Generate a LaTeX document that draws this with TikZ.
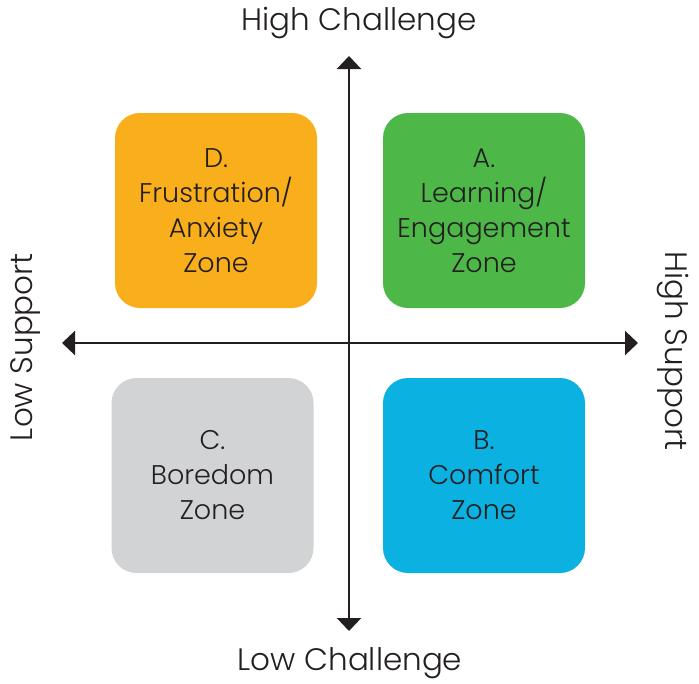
\documentclass[tikz,border=0pt]{standalone}
\usepackage{fontspec}
\setmainfont{Poppins}[UprightFont=* Light]
\usetikzlibrary{arrows.meta}
\definecolor{ink}{HTML}{231F20}
\definecolor{zoneorange}{HTML}{F9AE1B}
\definecolor{zonegreen}{HTML}{4DB848}
\definecolor{zonegray}{HTML}{D1D3D4}
\definecolor{zoneblue}{HTML}{0BB1E1}
\tikzset{
  zone/.style={rounded corners=25pt, minimum width=202pt, minimum height=195pt, inner sep=0pt, align=center, text=ink, font=\fontsize{27}{35}\selectfont},
  axis/.style={line width=2.5pt, draw=ink, {Triangle[width=24pt,length=13pt]}-{Triangle[width=24pt,length=13pt]}},
  axislabel/.style={text=ink, inner sep=0pt, font=\fontsize{31}{36}\selectfont}
}

\begin{document}
\begin{tikzpicture}[x=1pt,y=-1pt]
				%%%%% START %%%%%
				\def\xmid{349}
				\def\ymid{343}
				\useasboundingbox (0,0) rectangle (699,683);

				\node[zone, fill=zoneorange] (zoneD) at (216,210.5) {D.\\Frustration/\\Anxiety\\Zone};
				\node[zone, fill=zonegreen] (zoneA) at (484,210.5) {A.\\Learning/\\Engagement\\Zone};
				\node[zone, fill=zonegray] (zoneC) at (212.5,475.5) {C.\\Boredom\\Zone};
				\node[zone, fill=zoneblue] (zoneB) at (484,475.5) {B.\\Comfort\\Zone};

				\coordinate (top) at (\xmid,56);
				\coordinate (bottom) at (\xmid,631);
				\coordinate (left) at (62,\ymid);
				\coordinate (right) at (638,\ymid);
				\draw[axis] (bottom) -- (top);
				\draw[axis] (left) -- (right);

				\node[axislabel] (highchal) at (359,23) {High Challenge};
				\node[axislabel] (lowchal) at (350,663) {Low Challenge};
				\node[axislabel, rotate=90] (lowsup) at (26,347) {Low Support};
				\node[axislabel, rotate=-90] (highsup) at (673,351) {High Support};
				%%%%% END %%%%%
\end{tikzpicture}
\end{document}
